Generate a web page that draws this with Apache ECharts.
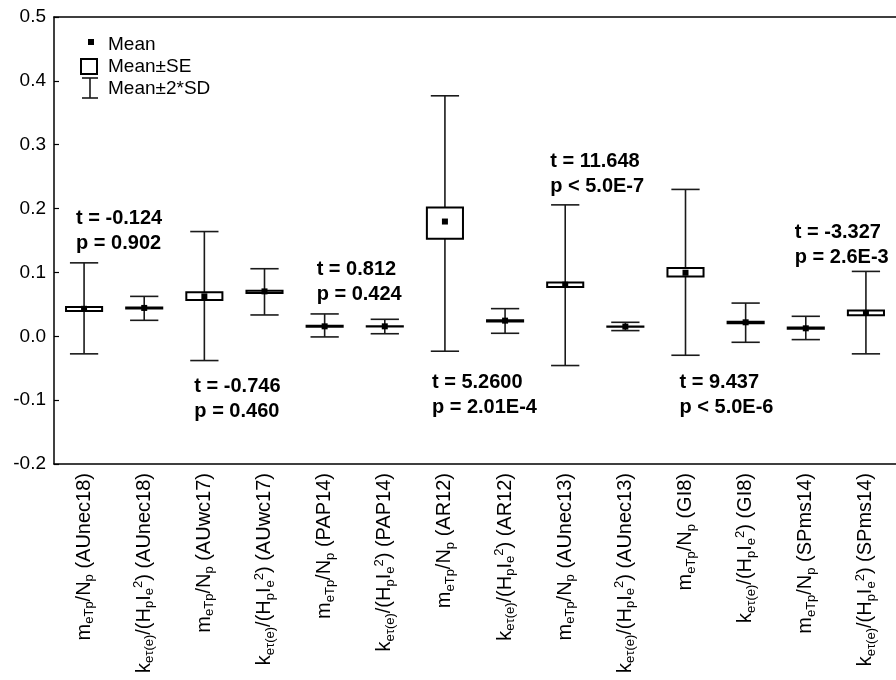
<!DOCTYPE html>
<html><head><meta charset="utf-8">
<script src="https://cdn.jsdelivr.net/npm/echarts@6/dist/echarts.min.js"></script>
<style>html,body{margin:0;padding:0;background:#fff}#c{width:896px;height:680px}</style>
</head><body><div id="c"></div>
<script>
// ---- data ----
const categories = [
  'm_{eTp}/N_{p} (AUnec18)', 'k_{eτ(e)}/(H_{p}I_{e}^{2}) (AUnec18)',
  'm_{eTp}/N_{p} (AUwc17)',  'k_{eτ(e)}/(H_{p}I_{e}^{2}) (AUwc17)',
  'm_{eTp}/N_{p} (PAP14)',   'k_{eτ(e)}/(H_{p}I_{e}^{2}) (PAP14)',
  'm_{eTp}/N_{p} (AR12)',    'k_{eτ(e)}/(H_{p}I_{e}^{2}) (AR12)',
  'm_{eTp}/N_{p} (AUnec13)', 'k_{eτ(e)}/(H_{p}I_{e}^{2}) (AUnec13)',
  'm_{eTp}/N_{p} (GI8)',     'k_{eτ(e)}/(H_{p}I_{e}^{2}) (GI8)',
  'm_{eTp}/N_{p} (SPms14)',  'k_{eτ(e)}/(H_{p}I_{e}^{2}) (SPms14)'
];
const means  = [0.043, 0.0444, 0.0625, 0.0703, 0.0156, 0.0156, 0.1797, 0.0245, 0.0808, 0.0152, 0.0995, 0.0219, 0.0125, 0.0366];
const seLow  = [0.0397, 0.0437, 0.0569, 0.0678, 0.0150, 0.0155, 0.1527, 0.0230, 0.0772, 0.0151, 0.0938, 0.0203, 0.0118, 0.0328];
const seHigh = [0.0459, 0.0451, 0.0688, 0.0714, 0.0164, 0.0158, 0.2016, 0.0252, 0.0844, 0.0154, 0.1069, 0.0227, 0.0138, 0.0402];
const sdLow  = [-0.0275, 0.025, -0.038, 0.0334, -0.001, 0.004, -0.0234, 0.0047, -0.0458, 0.0089, -0.0297, -0.0094, -0.0052, -0.0275];
const sdHigh = [0.115, 0.0625, 0.164, 0.1058, 0.035, 0.0266, 0.3766, 0.0433, 0.2058, 0.0219, 0.230, 0.052, 0.0313, 0.1016];

const yTicks = { min: -0.2, max: 0.5, interval: 0.1 };

// t-test annotations: category index, value at first text line, lines
const annCats = [0, 2, 4, 6, 8, 10, 12];
const annY    = [0.185, -0.078, 0.104, -0.072, 0.273, -0.072, 0.162];
const annT = ['t = -0.124', 't = -0.746', 't = 0.812', 't = 5.2600', 't = 11.648', 't = 9.437', 't = -3.327'];
const annP = ['p = 0.902', 'p = 0.460', 'p = 0.424', 'p = 2.01E-4', 'p < 5.0E-7', 'p < 5.0E-6', 'p = 2.6E-3'];

// ---- layout / style ----
const annDx = [-8, -10, -8, -13, -15, -6, -11];
const FONT = '"Liberation Sans", Arial, Helvetica, sans-serif';

function richLabel(s) {
  let out = '', last = 0;
  const re = /([_^])\{([^}]*)\}/g; let m;
  while ((m = re.exec(s)) !== null) {
    if (m.index > last) out += '{n|' + s.slice(last, m.index) + '}';
    out += (m[1] === '_' ? '{sub|' : '{sup|') + m[2] + '}';
    last = re.lastIndex;
  }
  if (last < s.length) out += '{n|' + s.slice(last) + '}';
  return out;
}

const chart = echarts.init(document.getElementById('c'), null, { renderer: 'canvas' });

function renderBox(params, api) {
  const i = api.value(0);
  const x = api.coord([i, 0])[0];
  const band = api.size([1, 0])[0];
  const yM = api.coord([i, api.value(1)])[1];
  const yL = api.coord([i, api.value(2)])[1];
  const yH = api.coord([i, api.value(3)])[1];
  const yDL = api.coord([i, api.value(4)])[1];
  const yDH = api.coord([i, api.value(5)])[1];
  const bw = band * 0.6, cw = band * 0.47;
  const ls = { stroke: '#1a1a1a', lineWidth: 1.6 };
  return { type: 'group', children: [
    { type: 'line', shape: { x1: x, y1: yDH, x2: x, y2: yDL }, style: ls },
    { type: 'line', shape: { x1: x - cw / 2, y1: yDH, x2: x + cw / 2, y2: yDH }, style: ls },
    { type: 'line', shape: { x1: x - cw / 2, y1: yDL, x2: x + cw / 2, y2: yDL }, style: ls },
    { type: 'rect', shape: { x: x - bw / 2, y: yH, width: bw, height: yL - yH }, style: { fill: '#fff', stroke: '#000', lineWidth: 2 } },
    { type: 'rect', shape: { x: x - 3, y: yM - 3, width: 6, height: 6 }, style: { fill: '#000' } }
  ]};
}

function renderAnn(params, api) {
  const k = params.dataIndex;
  const p = api.coord([api.value(0), api.value(1)]);
  const font = 'bold 20px ' + FONT;
  return { type: 'group', children: [
    { type: 'text', x: p[0] + annDx[k], y: p[1], style: { text: annT[k], font: font, fill: '#000', align: 'left', verticalAlign: 'middle' } },
    { type: 'text', x: p[0] + annDx[k], y: p[1] + 25, style: { text: annP[k], font: font, fill: '#000', align: 'left', verticalAlign: 'middle' } }
  ]};
}

const axisLineStyle = { color: '#000', width: 1.5 };

chart.setOption({
  animation: false,
  backgroundColor: '#fff',
  grid: { left: 54, top: 17, bottom: 216, width: 853, containLabel: false },
  xAxis: [{
    type: 'category', data: categories, position: 'bottom', boundaryGap: true,
    axisLine: { onZero: false, lineStyle: axisLineStyle },
    axisTick: { inside: true, alignWithLabel: true, length: 5, lineStyle: { color: '#000', width: 1.2 } },
    axisLabel: {
      interval: 0, rotate: 90, margin: 9, color: '#000',
      formatter: v => richLabel(v),
      rich: {
        n:   { fontSize: 20, fontFamily: FONT, color: '#000', lineHeight: 24, verticalAlign: 'middle' },
        sub: { fontSize: 13, fontFamily: FONT, color: '#000', lineHeight: 14, verticalAlign: 'bottom' },
        sup: { fontSize: 13, fontFamily: FONT, color: '#000', lineHeight: 10, verticalAlign: 'top' }
      }
    },
    splitLine: { show: false }
  }, {
    type: 'category', data: categories, position: 'top', boundaryGap: true,
    axisLine: { onZero: false, lineStyle: axisLineStyle },
    axisTick: { inside: true, alignWithLabel: true, length: 5, lineStyle: { color: '#000', width: 1.2 } },
    axisLabel: { show: false }, splitLine: { show: false }
  }],
  yAxis: {
    type: 'value', min: yTicks.min, max: yTicks.max, interval: yTicks.interval,
    axisLine: { show: true, onZero: false, lineStyle: axisLineStyle },
    axisTick: { show: true, inside: true, length: 5, lineStyle: { color: '#000', width: 1.2 } },
    axisLabel: { color: '#000', fontSize: 19, fontFamily: FONT, margin: 8, formatter: v => v.toFixed(1) },
    splitLine: { show: false }
  },
  series: [{
    type: 'custom', renderItem: renderBox, xAxisIndex: 0,
    encode: { x: 0, y: [1, 2, 3, 4, 5] },
    data: categories.map((c, i) => [i, means[i], seLow[i], seHigh[i], sdLow[i], sdHigh[i]]),
    clip: false, z: 2
  }, {
    type: 'custom', renderItem: renderAnn, xAxisIndex: 0,
    encode: { x: 0, y: 1 },
    data: annCats.map((c, k) => [c, annY[k]]),
    clip: false, z: 3
  }],
  graphic: [
    { type: 'rect', left: 88, top: 39, shape: { width: 6, height: 6 }, style: { fill: '#000' } },
    { type: 'text', x: 108, y: 45, style: { text: 'Mean', font: '19px ' + FONT, fill: '#000', verticalAlign: 'middle' } },
    { type: 'rect', x: 81, y: 59, shape: { width: 16, height: 15 }, style: { fill: '#fff', stroke: '#000', lineWidth: 2 } },
    { type: 'text', x: 108, y: 67, style: { text: 'Mean±SE', font: '19px ' + FONT, fill: '#000', verticalAlign: 'middle' } },
    { type: 'line', shape: { x1: 90, y1: 78, x2: 90, y2: 98 }, style: { stroke: '#1a1a1a', lineWidth: 1.6 } },
    { type: 'line', shape: { x1: 82, y1: 78, x2: 98, y2: 78 }, style: { stroke: '#1a1a1a', lineWidth: 1.6 } },
    { type: 'line', shape: { x1: 82, y1: 98, x2: 98, y2: 98 }, style: { stroke: '#1a1a1a', lineWidth: 1.6 } },
    { type: 'text', x: 108, y: 89, style: { text: 'Mean±2*SD', font: '19px ' + FONT, fill: '#000', verticalAlign: 'middle' } }
  ]
});
</script>
</body></html>
